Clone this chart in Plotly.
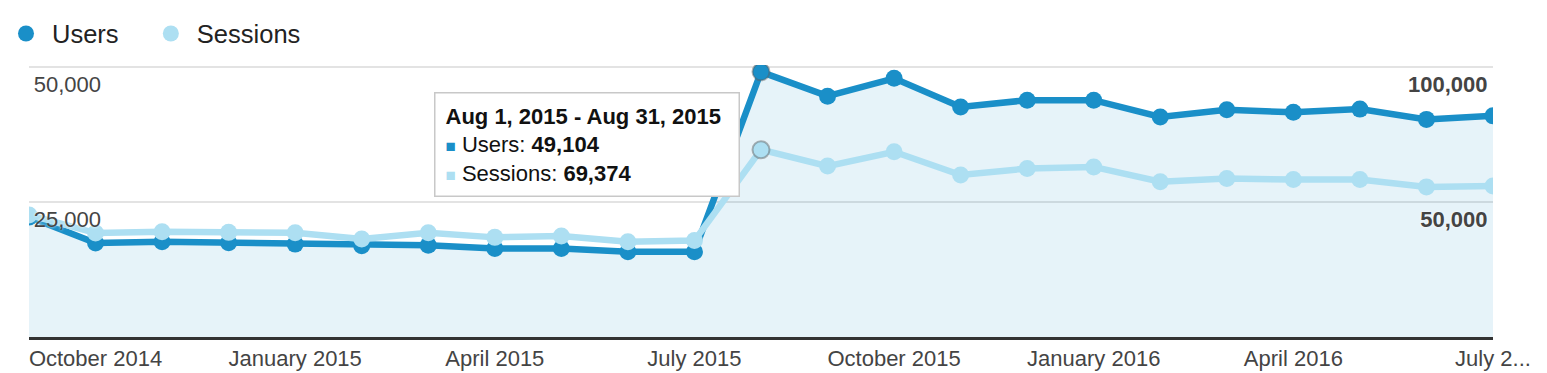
import plotly.graph_objects as go

months = ["2014-09", "2014-10", "2014-11", "2014-12", "2015-01", "2015-02", "2015-03",
          "2015-04", "2015-05", "2015-06", "2015-07", "2015-08", "2015-09", "2015-10",
          "2015-11", "2015-12", "2016-01", "2016-02", "2016-03", "2016-04", "2016-05",
          "2016-06", "2016-07"]
users = [22200, 17400, 17650, 17450, 17200, 16900, 17000, 16400, 16400, 15800, 15800,
         49104, 44600, 47900, 42600, 43850, 43850, 40750, 42100, 41600, 42200, 40300, 40950]
sessions = [45200, 38500, 39000, 38750, 38600, 36300, 38600, 36900, 37400, 35300, 35700,
            69374, 63300, 68600, 60000, 62400, 63000, 57500, 58700, 58300, 58300, 55600, 55900]

tick_months = ["2014-10", "2015-01", "2015-04", "2015-07", "2015-10", "2016-01", "2016-04", "2016-07"]
tick_labels = ["October 2014", "January 2015", "April 2015", "July 2015", "October 2015",
               "January 2016", "April 2016", "July 2..."]
left_ticks = [25000, 50000]
left_labels = ["25,000", "50,000"]
right_ticks = [50000, 100000]
right_labels = ["\u200750,000", "100,000"]
left_max = 50370
right_max = 100740

hover_month = "2015-08"
hover_title = "Aug 1, 2015 - Aug 31, 2015"

DARK = "#1a8fc8"
LIGHT = "#addff2"
FONT = "Liberation Sans, Arial, sans-serif"

hi = months.index(hover_month)
ring_w = [2 if i == hi else 0 for i in range(len(months))]
ring_c = "rgba(90,90,90,0.45)"

fig = go.Figure()
fig.add_trace(go.Scatter(
    x=months, y=users, mode="lines+markers", name="Users", showlegend=False,
    line=dict(color=DARK, width=6.5), fill="tozeroy", fillcolor="rgba(5,141,199,0.1)",
    marker=dict(size=17, color=DARK, line=dict(width=ring_w, color=ring_c)),
    yaxis="y", hoverinfo="skip"))
fig.add_trace(go.Scatter(
    x=months, y=sessions, mode="lines+markers", name="Sessions", showlegend=False,
    line=dict(color=LIGHT, width=6.5),
    marker=dict(size=17, color=LIGHT, line=dict(width=ring_w, color=ring_c)),
    yaxis="y2", hoverinfo="skip"))
# legend entries
fig.add_trace(go.Scatter(x=[None], y=[None], mode="markers", name="Users\u00a0\u00a0\u00a0",
                         marker=dict(size=16, color=DARK)))
fig.add_trace(go.Scatter(x=[None], y=[None], mode="markers", name="Sessions",
                         marker=dict(size=16, color=LIGHT)))

tip = (f"<b>{hover_title}</b><br>"
       f"<span style='color:{DARK};font-size:17px'>■</span> Users: <b>{users[hi]:,}</b><br>"
       f"<span style='color:{LIGHT};font-size:17px'>■</span> Sessions: <b>{sessions[hi]:,}</b>")

W, H = 1547, 373
L, R, T, B = 29, 54, 65, 36
pw, ph = W - L - R, H - T - B

fig.add_annotation(
    text=tip, xref="paper", yref="paper",
    x=(434 - L) / pw, y=(337 - 92) / ph, xanchor="left", yanchor="top",
    showarrow=False, align="left", bgcolor="white", bordercolor="#c8c8c8",
    borderwidth=1.5, borderpad=10, width=283,
    font=dict(family=FONT, size=22, color="#111"))

fig.update_layout(
    width=W, height=H,
    margin=dict(l=L, r=R, t=T, b=B, autoexpand=False),
    paper_bgcolor="white", plot_bgcolor="white",
    font=dict(family=FONT, color="#444"),
    showlegend=True,
    legend=dict(orientation="h", xref="container", yref="container",
                x=0, y=0.972, xanchor="left", yanchor="top",
                font=dict(size=25.5, color="#222"), itemclick=False, itemwidth=42),
    xaxis=dict(type="category", range=[0, len(months) - 1], automargin=False,
               tickmode="array", tickvals=tick_months, ticktext=tick_labels,
               showgrid=False, zeroline=False, showline=True, linecolor="#333", linewidth=2.5,
               ticks="", tickfont=dict(size=22, color="#444")),
    yaxis=dict(range=[0, left_max], tickmode="array", tickvals=left_ticks, ticktext=left_labels,
               automargin=False,
               showgrid=True, gridcolor="#e3e3e3", gridwidth=1.5, zeroline=False,
               ticks="", ticklabelshift=17, ticklabelstandoff=-73,
               tickfont=dict(size=22, color="#444", shadow="0px 0px 3px white")),
    yaxis2=dict(range=[0, right_max], overlaying="y", side="right", automargin=False,
                tickmode="array", tickvals=right_ticks, ticktext=right_labels,
                showgrid=False, zeroline=False,
                ticks="", ticklabelshift=17, ticklabelstandoff=-86,
                tickfont=dict(size=22, color="#444", weight="bold",
                              shadow="0px 0px 3px white")),
)

fig.write_html("out.html", config={"displayModeBar": False},
               post_script="document.body.style.margin='0';")
